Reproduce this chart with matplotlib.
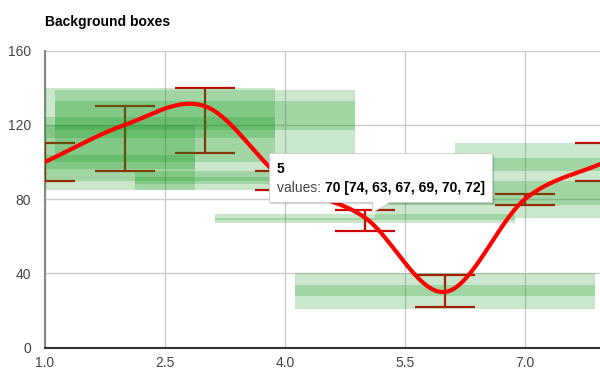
import numpy as np
import matplotlib
matplotlib.use('Agg')
import matplotlib.pyplot as plt
from matplotlib.patches import Rectangle, Polygon

# ---- data ----
x_vals = [1, 2, 3, 4, 5, 6, 7, 8]
values = [100, 120, 130, 90, 70, 30, 80, 100]
i0 = [90, 95, 105, 85, 74, 39, 77, 90]      # bar intervals
i1 = [110, 130, 140, 95, 63, 22, 83, 110]
i2 = [85, 90, 100, 85, 67, 21, 70, 85]      # box intervals
i3 = [96, 113, 117, 88, 69, 28, 77, 95]
i4 = [104, 124, 133, 92, 70, 34, 85, 102]
i5 = [120, 140, 139, 95, 72, 40, 90, 110]
x_ticks = [1.0, 2.5, 4.0, 5.5, 7.0]
y_ticks = [0, 40, 80, 120, 160]
title = "Background boxes"
tip_index = 4

W, H = 600, 375
fig = plt.figure(figsize=(W / 100, H / 100), dpi=100)
fig.patch.set_facecolor('white')

bottom_px, top_px = 347.7, 50.5
ax = fig.add_axes([45 / W, 1 - bottom_px / H, 600 / W, (bottom_px - top_px) / H])
ax.set_xlim(1, 8.5)
ax.set_ylim(0, 160)

FONT = 'Liberation Sans'
# grid
ax.set_xticks(x_ticks + [8.5])
ax.set_xticklabels([f"{t:.1f}" for t in x_ticks] + [''])
ax.set_yticks(y_ticks)
ax.set_yticklabels([str(t) for t in y_ticks])
ax.grid(True, color='#cccccc', linewidth=1.0, zorder=0)
ax.set_axisbelow(True)
ax.tick_params(length=0, colors='#444444', labelsize=10)
ax.tick_params(axis='x', pad=6)
ax.tick_params(axis='y', pad=10)
for lab in ax.get_xticklabels() + ax.get_yticklabels():
    lab.set_fontfamily(FONT)
for s in ['top', 'right']:
    ax.spines[s].set_visible(False)
ax.spines['left'].set_color('#888888')
ax.spines['left'].set_linewidth(1.5)
ax.spines['bottom'].set_color('#333333')
ax.spines['bottom'].set_linewidth(1.5)
ax.spines['left'].set_zorder(1)

# bars (under boxes)
bar_hw = 0.375
bar_color = '#cc0000'
for xv, a, b in zip(x_vals, i0, i1):
    ax.plot([xv, xv], [a, b], color=bar_color, lw=1.6, zorder=2, solid_capstyle='butt')
    for v in (a, b):
        ax.plot([xv - bar_hw, xv + bar_hw], [v, v], color=bar_color, lw=1.6, zorder=2,
                solid_capstyle='butt')

# boxes
box_hw = 1.875
green = '#109618'
for xv, a, b, c, d in zip(x_vals, i2, i3, i4, i5):
    for lo, hi in ((a, d), (b, c)):
        ax.add_patch(Rectangle((xv - box_hw, lo), 2 * box_hw, hi - lo,
                               facecolor=green, alpha=0.22, edgecolor='none', zorder=3))

# smooth curve (Catmull-Rom / Hermite)
xs = np.array(x_vals, float)
ys = np.array(values, float)
n = len(xs)
m = np.zeros(n)
for k in range(n):
    if k == 0:
        m[k] = (ys[1] - ys[0]) / (xs[1] - xs[0])
    elif k == n - 1:
        m[k] = (ys[-1] - ys[-2]) / (xs[-1] - xs[-2])
    else:
        m[k] = (ys[k + 1] - ys[k - 1]) / (xs[k + 1] - xs[k - 1])
cx, cy = [], []
for k in range(n - 1):
    t = np.linspace(0, 1, 60)
    h = xs[k + 1] - xs[k]
    h00 = 2 * t**3 - 3 * t**2 + 1
    h10 = t**3 - 2 * t**2 + t
    h01 = -2 * t**3 + 3 * t**2
    h11 = t**3 - t**2
    cy.extend(h00 * ys[k] + h10 * h * m[k] + h01 * ys[k + 1] + h11 * h * m[k + 1])
    cx.extend(xs[k] + t * h)
ax.plot(cx, cy, color='#ff0000', lw=3.0, zorder=5, solid_capstyle='round')

# title
fig.text(45 / W, 1 - 22 / H, title, fontsize=10, fontweight='bold', family=FONT,
         color='#000000', va='center', ha='left')

# tooltip anchored near the data point
fig.canvas.draw()
renderer = fig.canvas.get_renderer()
px_, py_ = ax.transData.transform((x_vals[tip_index], values[tip_index]))
tipx, tipy = px_ + 7, py_ + 5
left = px_ - 96
right = px_ + 127
bot = py_ + 16
top = py_ + 65
def fx(p):
    return p / W
def fy(p):
    return p / H
# shadow
for off, al in ((1, 0.18), (2, 0.10), (3, 0.05)):
    fig.patches.append(Rectangle((fx(left + off - 1), fy(bot - off)), fx(right - left + 1), fy(top - bot),
                                 transform=fig.transFigure, facecolor='#000000', alpha=al,
                                 edgecolor='none', zorder=10))
fig.patches.append(Polygon([(fx(tipx), fy(tipy)), (fx(tipx + 1), fy(bot + 1)), (fx(tipx + 21), fy(bot + 1))],
                           closed=True, transform=fig.transFigure, facecolor='white',
                           edgecolor='#cccccc', lw=0.6, zorder=11))
fig.patches.append(Rectangle((fx(left), fy(bot)), fx(right - left), fy(top - bot),
                             transform=fig.transFigure, facecolor='white', edgecolor='#cccccc',
                             lw=0.6, zorder=11))
fig.patches.append(Polygon([(fx(tipx + 0.5), fy(tipy + 1)), (fx(tipx + 1.5), fy(bot + 1.5)), (fx(tipx + 20), fy(bot + 1.5))],
                           closed=True, transform=fig.transFigure, facecolor='white',
                           edgecolor='none', zorder=12))
fig.text(fx(left + 8), fy(top - 20), str(x_vals[tip_index]), fontsize=10, fontweight='bold',
         family=FONT, color='#000000', ha='left', va='baseline', zorder=13)
t1 = fig.text(fx(left + 8), fy(top - 39), "values: ", fontsize=10, family=FONT,
              color='#444444', ha='left', va='baseline', zorder=13)
bb = t1.get_window_extent(renderer=renderer)
others = [i0, i1, i2, i3, i4, i5]
rest = f"{values[tip_index]} [" + ", ".join(str(s[tip_index]) for s in others) + "]"
fig.text(bb.x1 / W, fy(top - 39), rest, fontsize=10, fontweight='bold', family=FONT,
         color='#000000', ha='left', va='baseline', zorder=13)

fig.savefig('out.png', dpi=100)
